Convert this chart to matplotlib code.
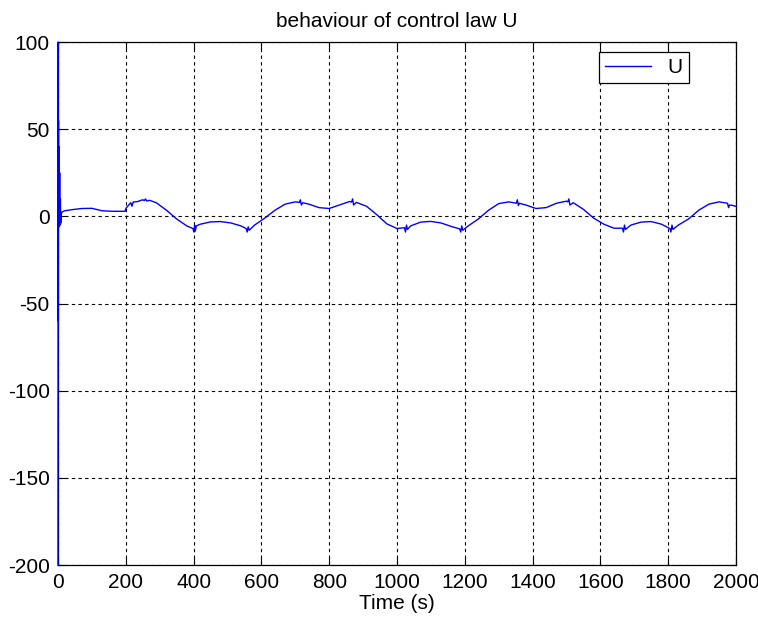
import matplotlib
matplotlib.use("Agg")
import matplotlib.pyplot as plt

plt.rcParams['font.family'] = ['Liberation Sans', 'DejaVu Sans']
plt.rcParams['axes.unicode_minus'] = False

# control law U
time_s = [0, 0.5, 1, 1.5, 2, 3, 4, 5, 6, 7, 8, 10, 12, 20, 40, 70, 100, 130, 160, 198,
          200, 210, 215, 218, 222, 235, 250, 255, 258, 262, 270, 290, 320, 350, 380,
          398, 401, 403, 405, 408, 420, 450, 480, 510, 540, 555, 558, 561, 564, 580,
          610, 640, 670, 700, 712, 715, 718, 722, 740, 770, 800, 830, 860, 866, 869,
          872, 880, 910, 940, 970, 1000, 1022, 1025, 1028, 1031, 1040, 1070, 1100,
          1130, 1160, 1185, 1188, 1191, 1194, 1210, 1240, 1270, 1300, 1330, 1352,
          1355, 1358, 1361, 1380, 1410, 1440, 1470, 1500, 1504, 1507, 1510, 1520,
          1550, 1580, 1610, 1640, 1665, 1668, 1671, 1674, 1690, 1720, 1750, 1780,
          1805, 1808, 1811, 1814, 1830, 1860, 1890, 1920, 1950, 1975, 1978, 1981,
          1990, 2000]
u_values = [-200, 100, -60, 55, -5, 40, -6, 25, -5, 10, -4, 1.5, 2.5, 3.2, 3.8, 4.5, 4.6, 3.2, 2.9, 2.9,
            4.5, 6.8, 7.8, 5.8, 8.2, 8.5, 9.5, 9.0, 10.0, 8.8, 9.2, 7.8, 3.5, -1.5, -5.5,
            -7.0, -9.0, -5.0, -8.5, -5.5, -4.5, -3.2, -3.0, -3.8, -5.5, -7.0, -9.0, -6.0, -8.0, -5.0,
            -1.0, 3.5, 7.0, 8.3, 8.0, 9.5, 6.5, 7.8, 7.0, 5.0, 4.5, 6.5, 8.5, 8.2, 10.0,
            6.5, 8.0, 5.8, 1.0, -4.3, -7.0, -6.5, -9.0, -5.0, -7.5, -5.5, -3.3, -2.9,
            -3.8, -5.8, -7.2, -9.0, -5.5, -8.0, -5.5, -1.5, 3.5, 7.3, 8.3, 7.5,
            9.5, 6.2, 7.5, 6.5, 4.5, 5.0, 7.5, 8.7, 8.3, 10.0, 6.5, 7.8,
            4.0, -1.0, -4.5, -6.8, -6.8, -9.0, -5.0, -7.5, -5.0, -3.3, -3.0, -4.5,
            -7.0, -9.0, -5.0, -7.5, -5.0, -1.5, 3.5, 7.0, 8.3, 7.5, 5.0, 6.5,
            6.3, 5.7]

x_ticks = [0, 200, 400, 600, 800, 1000, 1200, 1400, 1600, 1800, 2000]
y_ticks = [-200, -150, -100, -50, 0, 50, 100]

fig = plt.figure(figsize=(7.58, 6.26), dpi=100)
ax = fig.add_axes([0.0765, 0.0974, 0.8945, 0.8355])

ax.plot(time_s, u_values, color='#0000ff', lw=1.0, label='U', zorder=3, clip_on=False)

ax.set_xlim(0, 2000)
ax.set_ylim(-200, 100)
ax.set_xticks(x_ticks)
ax.set_yticks(y_ticks)
ax.tick_params(direction='in', length=5, width=0.8, labelsize=15, pad=6,
               top=True, right=True, colors='black')
ax.grid(True, color='black', linestyle=(0, (3, 3)), lw=0.8)
for s in ax.spines.values():
    s.set_linewidth(0.9)
    s.set_color('black')

ax.set_xlabel('Time (s)', fontsize=15, labelpad=1)
ax.set_title('behaviour of control law U', fontsize=15, pad=11)

leg = ax.legend(loc='upper right', bbox_to_anchor=(0.9307, 0.981), borderaxespad=0,
                fontsize=15, fancybox=False, framealpha=1, edgecolor='black',
                handlelength=2.2, handletextpad=0.8, borderpad=0.3)
leg.get_frame().set_linewidth(0.9)

fig.savefig('out.png', dpi=100, facecolor='white')
